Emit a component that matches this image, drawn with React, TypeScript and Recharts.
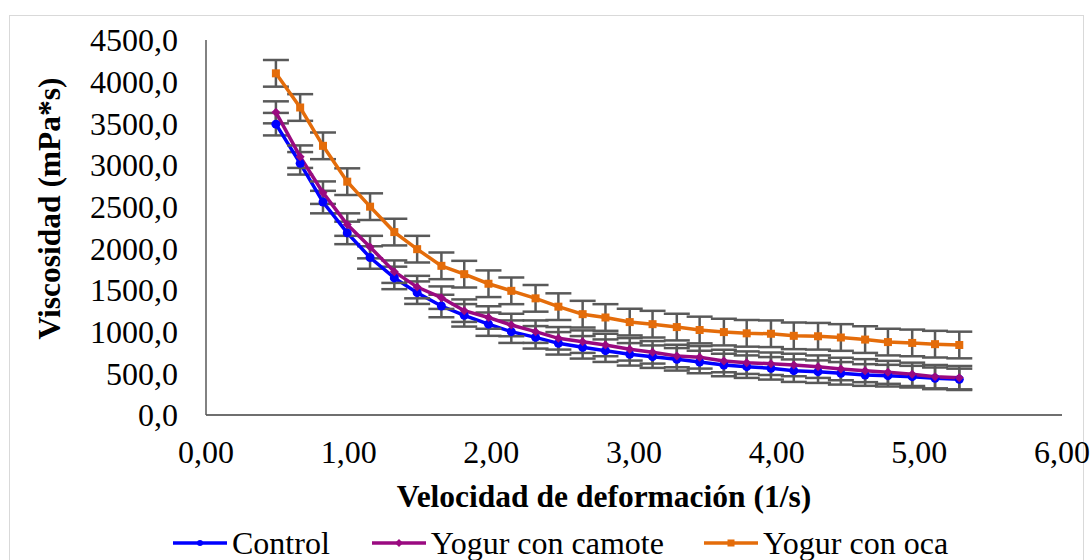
import React from 'react';
import { LineChart, Line, XAxis, YAxis, ErrorBar, Legend } from 'recharts';

const shearRate = [0.49, 0.66, 0.82, 0.99, 1.15, 1.32, 1.48, 1.65, 1.81, 1.98, 2.14, 2.31, 2.47, 2.64, 2.8, 2.97, 3.13, 3.3, 3.46, 3.63, 3.79, 3.96, 4.12, 4.29, 4.45, 4.62, 4.78, 4.95, 5.11, 5.28];
const control = [3490, 3020, 2555, 2185, 1890, 1645, 1468, 1308, 1196, 1090, 1000, 932, 860, 812, 772, 728, 700, 668, 636, 600, 580, 560, 532, 520, 500, 480, 472, 460, 440, 428];
const camote = [3632, 3100, 2668, 2285, 2015, 1720, 1535, 1408, 1252, 1170, 1080, 1000, 920, 880, 840, 788, 752, 708, 692, 648, 628, 615, 600, 580, 552, 532, 512, 488, 460, 448];
const oca = [4100, 3690, 3230, 2800, 2500, 2195, 1990, 1790, 1690, 1575, 1490, 1400, 1300, 1210, 1170, 1115, 1090, 1055, 1020, 995, 980, 975, 950, 945, 930, 905, 875, 865, 850, 840];
const controlErr = [135, 135, 135, 135, 135, 135, 135, 135, 135, 140, 135, 135, 135, 135, 135, 135, 135, 135, 135, 135, 135, 135, 135, 135, 135, 130, 130, 130, 130, 128];
const camoteErr = [132, 135, 135, 135, 135, 135, 135, 135, 135, 135, 135, 135, 135, 135, 135, 135, 135, 135, 135, 135, 135, 135, 135, 135, 135, 138, 138, 140, 140, 140];
const ocaErr = [160, 160, 160, 160, 160, 160, 160, 160, 160, 160, 160, 160, 160, 160, 160, 160, 160, 160, 160, 160, 160, 160, 160, 160, 160, 160, 160, 160, 160, 160];

const xTicks = [0, 1, 2, 3, 4, 5, 6];
const yTicks = [0, 500, 1000, 1500, 2000, 2500, 3000, 3500, 4000, 4500];

const seriesNames = ['Control', 'Yogur con camote', 'Yogur con oca'];
const seriesColors = ['#0000FF', '#9A0A80', '#E46C0A'];

const data = shearRate.map((x, i) => ({
  x,
  control: control[i],
  camote: camote[i],
  oca: oca[i],
  controlErr: controlErr[i],
  camoteErr: camoteErr[i],
  ocaErr: ocaErr[i],
}));

const FONT = 'Liberation Serif, Times New Roman, serif';

const makeDot = (kind: string, color: string) => (props: any) => {
  const { cx, cy, index } = props;
  if (cx == null || cy == null) return <g key={`d-${kind}-${index}`} />;
  if (kind === 'circle') return <circle key={`d-${kind}-${index}`} cx={cx} cy={cy} r={4.5} fill={color} />;
  if (kind === 'diamond')
    return <path key={`d-${kind}-${index}`} d={`M${cx},${cy - 4.5}L${cx + 4.5},${cy}L${cx},${cy + 4.5}L${cx - 4.5},${cy}Z`} fill={color} />;
  return <rect key={`d-${kind}-${index}`} x={cx - 4} y={cy - 4} width={8} height={8} fill={color} />;
};

const markerKinds = ['circle', 'diamond', 'square'];

const LegendContent = () => (
  <div style={{ display: 'flex', alignItems: 'center', paddingLeft: 173, fontFamily: FONT, fontSize: 32, color: '#000', lineHeight: '38px' }}>
    {seriesNames.map((n, i) => (
      <div key={n} style={{ display: 'flex', alignItems: 'center', marginRight: i === 0 ? 42 : 40 }}>
        <svg width={54} height={10} style={{ marginRight: 5 }}>
          <line x1={0} y1={5} x2={54} y2={5} stroke={seriesColors[i]} strokeWidth={3.5} />
          {markerKinds[i] === 'circle' && <circle cx={27} cy={5} r={3} fill={seriesColors[i]} />}
          {markerKinds[i] === 'diamond' && <path d="M27,1L31,5L27,9L23,5Z" fill={seriesColors[i]} />}
          {markerKinds[i] === 'square' && <rect x={23.5} y={1.5} width={7} height={7} fill={seriesColors[i]} />}
        </svg>
        <span>{n}</span>
      </div>
    ))}
  </div>
);

export default function App() {
  return (
    <div style={{ position: 'absolute', left: 0, top: 0, width: 1092, height: 560, background: '#fff', overflow: 'hidden' }}>
      <div style={{ position: 'absolute', left: 9, top: 15, width: 1073, height: 560, border: '1px solid #D9D9D9' }} />
      <LineChart width={1092} height={560} data={data} margin={{ top: 40, right: 30, bottom: 85, left: 0 }} style={{ position: 'absolute', left: 0, top: 0 }}>
        <XAxis
          dataKey="x"
          type="number"
          domain={[0, 6]}
          ticks={xTicks}
          tickFormatter={(v: number) => v.toFixed(2).replace('.', ',')}
          height={60}
          axisLine={{ stroke: '#3F3F3F', strokeWidth: 1.5 }}
          tickLine={false}
          tickSize={0}
          tickMargin={25}
          tick={{ fill: '#000', fontSize: 32, fontFamily: FONT }}
          interval={0}
          label={({ viewBox }: any) => (
            <text x={viewBox.x + viewBox.width / 2 - 30} y={viewBox.y + 92} textAnchor="middle" fontFamily={FONT} fontSize={31.5} fontWeight="bold" fill="#000">
              Velocidad de deformación (1/s)
            </text>
          )}
        />
        <YAxis
          type="number"
          domain={[0, 4500]}
          ticks={yTicks}
          tickFormatter={(v: number) => v.toFixed(1).replace('.', ',')}
          width={206}
          axisLine={{ stroke: '#595959', strokeWidth: 1.5 }}
          tickLine={false}
          tickSize={0}
          tickMargin={28}
          tick={{ fill: '#000', fontSize: 32, fontFamily: FONT }}
          interval={0}
          label={({ viewBox }: any) => (
            <text
              x={49}
              y={viewBox.y + viewBox.height / 2 - 19}
              transform={`rotate(-90, 49, ${viewBox.y + viewBox.height / 2 - 19})`}
              textAnchor="middle"
              dominantBaseline="central"
              fontFamily={FONT}
              fontSize={31.5}
              fontWeight="bold"
              fill="#000"
            >
              Viscosidad (mPa*s)
            </text>
          )}
        />
        <Legend
          layout="horizontal"
          verticalAlign="middle"
          align="center"
          content={<LegendContent />}
          wrapperStyle={{ top: 524, left: 0, width: 1092, height: 38 }}
        />
        <Line dataKey="control" name="Control" stroke={seriesColors[0]} strokeWidth={3.5} dot={makeDot('circle', seriesColors[0])} isAnimationActive={false}>
          <ErrorBar dataKey="controlErr" width={13} strokeWidth={2.5} stroke="#595959" direction="y" />
        </Line>
        <Line dataKey="camote" name="Yogur con camote" stroke={seriesColors[1]} strokeWidth={3.5} dot={makeDot('diamond', seriesColors[1])} isAnimationActive={false}>
          <ErrorBar dataKey="camoteErr" width={13} strokeWidth={2.5} stroke="#595959" direction="y" />
        </Line>
        <Line dataKey="oca" name="Yogur con oca" stroke={seriesColors[2]} strokeWidth={3.5} dot={makeDot('square', seriesColors[2])} isAnimationActive={false}>
          <ErrorBar dataKey="ocaErr" width={13} strokeWidth={2.5} stroke="#595959" direction="y" />
        </Line>
      </LineChart>
    </div>
  );
}
